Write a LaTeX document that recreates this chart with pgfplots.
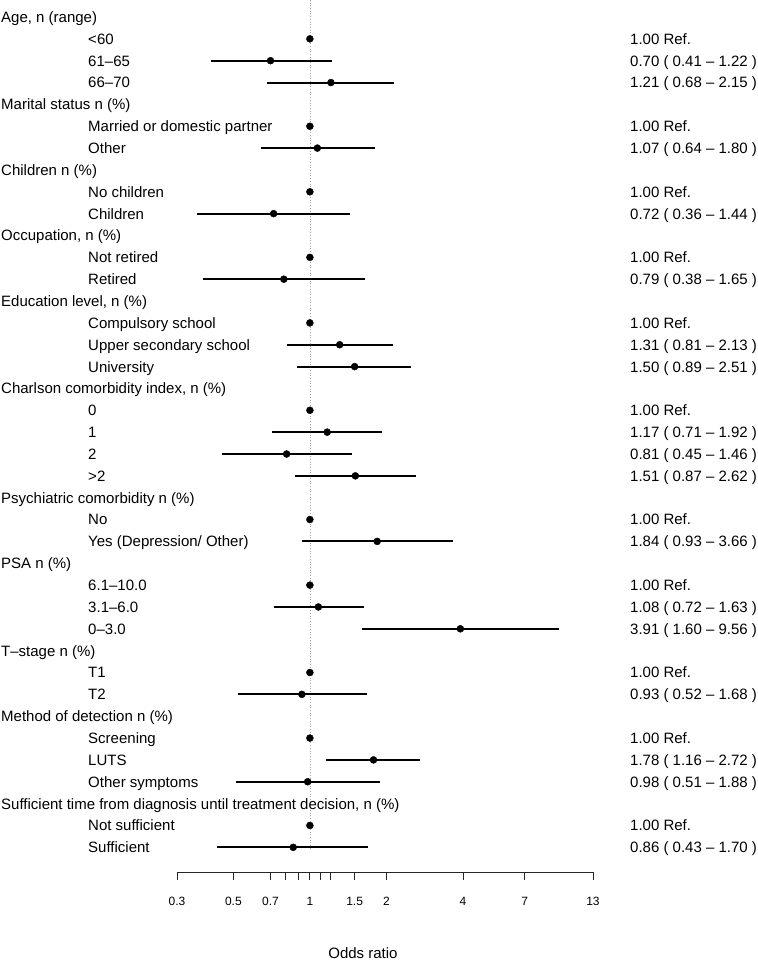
\documentclass[border=0pt]{standalone}
\usepackage{fontspec}
\setmainfont{Liberation Sans}
\usepackage{pgfplots}
\pgfplotsset{compat=1.18}
\newcommand{\hd}[2]{\node[anchor=base west,inner sep=0pt,yshift=-5.4pt] at (axis cs:0.0609,-#1) {#2};}
\newcommand{\sub}[2]{\node[anchor=base west,inner sep=0pt,yshift=-5.4pt] at (axis cs:0.1340,-#1) {#2};}
\newcommand{\est}[2]{\node[anchor=base west,inner sep=0pt,yshift=-5.4pt] at (axis cs:18.18,-#1) {#2};}
\begin{document}
\fontsize{15}{18}\selectfont
\begin{tikzpicture}
\begin{axis}[
  scale only axis, width=416pt, height=872pt,
  xmode=log, xmin=0.3, xmax=13, ymin=-40.13, ymax=-0.222,
  axis x line*=bottom, axis y line=none,
  xtick={0.3,0.5,0.7,0.8,0.9,1,1.1,1.2,1.5,2,4,7,13},
  xticklabels={0.3,0.5,0.7,,,1,,,1.5,2,4,7,13},
  tick align=outside, major tick length=8pt,
  x axis line style={line width=0.8pt, draw=black!85},
  xtick style={line width=0.8pt, draw=black!85},
  xticklabel style={font=\fontsize{12}{14}\selectfont, yshift=-12pt},
  clip=false,
]
\addplot[gray!70, dotted, line width=0.7pt] coordinates {(1,-0.222) (1,-39.1)};
\addplot[black, line width=2pt, unbounded coords=jump] coordinates {
 (0.41,-3) (1.22,-3) (nan,nan)
 (0.68,-4) (2.15,-4) (nan,nan)
 (0.64,-7) (1.80,-7) (nan,nan)
 (0.36,-10) (1.44,-10) (nan,nan)
 (0.38,-13) (1.65,-13) (nan,nan)
 (0.81,-16) (2.13,-16) (nan,nan)
 (0.89,-17) (2.51,-17) (nan,nan)
 (0.71,-20) (1.92,-20) (nan,nan)
 (0.45,-21) (1.46,-21) (nan,nan)
 (0.87,-22) (2.62,-22) (nan,nan)
 (0.93,-25) (3.66,-25) (nan,nan)
 (0.72,-28) (1.63,-28) (nan,nan)
 (1.60,-29) (9.56,-29) (nan,nan)
 (0.52,-32) (1.68,-32) (nan,nan)
 (1.16,-35) (2.72,-35) (nan,nan)
 (0.51,-36) (1.88,-36) (nan,nan)
 (0.43,-39) (1.70,-39)
};
\addplot[only marks, mark=*, mark size=3.5pt, black] coordinates {
 (1,-2) (0.70,-3) (1.21,-4)
 (1,-6) (1.07,-7)
 (1,-9) (0.72,-10)
 (1,-12) (0.79,-13)
 (1,-15) (1.31,-16) (1.50,-17)
 (1,-19) (1.17,-20) (0.81,-21) (1.51,-22)
 (1,-24) (1.84,-25)
 (1,-27) (1.08,-28) (3.91,-29)
 (1,-31) (0.93,-32)
 (1,-34) (1.78,-35) (0.98,-36)
 (1,-38) (0.86,-39)
};
\hd{1}{Age, n (range)}
\sub{2}{<60}\est{2}{1.00 Ref.}
\sub{3}{61–65}\est{3}{0.70 ( 0.41 – 1.22 )}
\sub{4}{66–70}\est{4}{1.21 ( 0.68 – 2.15 )}
\hd{5}{Marital status n (\%)}
\sub{6}{Married or domestic partner}\est{6}{1.00 Ref.}
\sub{7}{Other}\est{7}{1.07 ( 0.64 – 1.80 )}
\hd{8}{Children n (\%)}
\sub{9}{No children}\est{9}{1.00 Ref.}
\sub{10}{Children}\est{10}{0.72 ( 0.36 – 1.44 )}
\hd{11}{Occupation, n (\%)}
\sub{12}{Not retired}\est{12}{1.00 Ref.}
\sub{13}{Retired}\est{13}{0.79 ( 0.38 – 1.65 )}
\hd{14}{Education level, n (\%)}
\sub{15}{Compulsory school}\est{15}{1.00 Ref.}
\sub{16}{Upper secondary school}\est{16}{1.31 ( 0.81 – 2.13 )}
\sub{17}{University}\est{17}{1.50 ( 0.89 – 2.51 )}
\hd{18}{Charlson comorbidity index, n (\%)}
\sub{19}{0}\est{19}{1.00 Ref.}
\sub{20}{1}\est{20}{1.17 ( 0.71 – 1.92 )}
\sub{21}{2}\est{21}{0.81 ( 0.45 – 1.46 )}
\sub{22}{>2}\est{22}{1.51 ( 0.87 – 2.62 )}
\hd{23}{Psychiatric comorbidity n (\%)}
\sub{24}{No}\est{24}{1.00 Ref.}
\sub{25}{Yes (Depression/ Other)}\est{25}{1.84 ( 0.93 – 3.66 )}
\hd{26}{PSA n (\%)}
\sub{27}{6.1–10.0}\est{27}{1.00 Ref.}
\sub{28}{3.1–6.0}\est{28}{1.08 ( 0.72 – 1.63 )}
\sub{29}{0–3.0}\est{29}{3.91 ( 1.60 – 9.56 )}
\hd{30}{T–stage n (\%)}
\sub{31}{T1}\est{31}{1.00 Ref.}
\sub{32}{T2}\est{32}{0.93 ( 0.52 – 1.68 )}
\hd{33}{Method of detection n (\%)}
\sub{34}{Screening}\est{34}{1.00 Ref.}
\sub{35}{LUTS}\est{35}{1.78 ( 1.16 – 2.72 )}
\sub{36}{Other symptoms}\est{36}{0.98 ( 0.51 – 1.88 )}
\hd{37}{Sufficient time from diagnosis until treatment decision, n (\%)}
\sub{38}{Not sufficient}\est{38}{1.00 Ref.}
\sub{39}{Sufficient}\est{39}{0.86 ( 0.43 – 1.70 )}
\node[anchor=center,inner sep=0pt] at (axis cs:1.618,-43.84) {Odds ratio};
\coordinate (O) at (rel axis cs:0,0);
\end{axis}
\pgfresetboundingbox
\path (O) ++(-177pt,-90pt) rectangle ++(758pt,962pt);
\end{tikzpicture}
\end{document}
